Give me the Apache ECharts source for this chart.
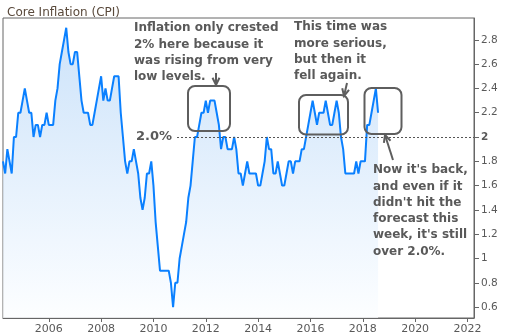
<!DOCTYPE html>
<html><head><meta charset="utf-8">
<script src="https://cdn.jsdelivr.net/npm/echarts@6/dist/echarts.min.js"></script>
<style>html,body{margin:0;padding:0;background:#fff}#c{width:505px;height:336px}</style>
</head><body><div id="c"></div>
<script>
// Core CPI, year-over-year %, monthly from April 2004 to August 2018
const startYear = 2004, startMonth = 4;
const cpi2004 = [1.8, 1.7, 1.9, 1.8, 1.7, 2.0, 2.0, 2.2, 2.2];
const cpi2005 = [2.3, 2.4, 2.3, 2.2, 2.2, 2.0, 2.1, 2.1, 2.0, 2.1, 2.1, 2.2];
const cpi2006 = [2.1, 2.1, 2.1, 2.3, 2.4, 2.6, 2.7, 2.8, 2.9, 2.7, 2.6, 2.6];
const cpi2007 = [2.7, 2.7, 2.5, 2.3, 2.2, 2.2, 2.2, 2.1, 2.1, 2.2, 2.3, 2.4];
const cpi2008 = [2.5, 2.3, 2.4, 2.3, 2.3, 2.4, 2.5, 2.5, 2.5, 2.2, 2.0, 1.8];
const cpi2009 = [1.7, 1.8, 1.8, 1.9, 1.8, 1.7, 1.5, 1.4, 1.5, 1.7, 1.7, 1.8];
const cpi2010 = [1.6, 1.3, 1.1, 0.9, 0.9, 0.9, 0.9, 0.9, 0.8, 0.6, 0.8, 0.8];
const cpi2011 = [1.0, 1.1, 1.2, 1.3, 1.5, 1.6, 1.8, 2.0, 2.0, 2.1, 2.2, 2.2];
const cpi2012 = [2.3, 2.2, 2.3, 2.3, 2.3, 2.2, 2.1, 1.9, 2.0, 2.0, 1.9, 1.9];
const cpi2013 = [1.9, 2.0, 1.9, 1.7, 1.7, 1.6, 1.7, 1.8, 1.7, 1.7, 1.7, 1.7];
const cpi2014 = [1.6, 1.6, 1.7, 1.8, 2.0, 1.9, 1.9, 1.7, 1.7, 1.8, 1.7, 1.6];
const cpi2015 = [1.6, 1.7, 1.8, 1.8, 1.7, 1.8, 1.8, 1.8, 1.9, 1.9, 2.0, 2.1];
const cpi2016 = [2.2, 2.3, 2.2, 2.1, 2.2, 2.2, 2.2, 2.3, 2.2, 2.1, 2.1, 2.2];
const cpi2017 = [2.3, 2.2, 2.0, 1.9, 1.7, 1.7, 1.7, 1.7, 1.7, 1.8, 1.7, 1.8];
const cpi2018 = [1.8, 1.8, 2.1, 2.1, 2.2, 2.3, 2.4, 2.2];

const yTicks = [0.6, 0.8, 1.0, 1.2, 1.4, 1.6, 1.8, 2.0, 2.2, 2.4, 2.6, 2.8];
const xTicks = [2006, 2008, 2010, 2012, 2014, 2016, 2018, 2020, 2022];
const targetLevel = 2.0;

const coreCPI = [].concat(cpi2004, cpi2005, cpi2006, cpi2007, cpi2008, cpi2009,
  cpi2010, cpi2011, cpi2012, cpi2013, cpi2014, cpi2015, cpi2016, cpi2017, cpi2018);
const seriesData = coreCPI.map((v, i) => [startYear + (startMonth - 1 + i) / 12, v]);

const chart = echarts.init(document.getElementById('c'), null, {renderer: 'canvas'});
const GRAY = '#5e5e5e';
const annFont = {fill: '#595959', fontSize: 12, fontWeight: 'bold', fontFamily: 'DejaVu Sans', lineHeight: 16.3, verticalAlign: 'top', align: 'left'};

function arrow(x1, y1, x2, y2) {
  const a = Math.atan2(y2 - y1, x2 - x1), L = 8, s = 0.45;
  return [
    {type: 'line', shape: {x1, y1, x2, y2}, style: {stroke: GRAY, lineWidth: 2}, z: 20},
    {type: 'polyline', shape: {points: [
      [x2 - L * Math.cos(a - s), y2 - L * Math.sin(a - s)], [x2, y2],
      [x2 - L * Math.cos(a + s), y2 - L * Math.sin(a + s)]]},
      style: {stroke: GRAY, lineWidth: 2, fill: null}, z: 20}
  ];
}
function box(x, y, w, h) {
  return {type: 'rect', shape: {x, y, width: w, height: h, r: 7}, style: {stroke: GRAY, lineWidth: 2, fill: null}, z: 20};
}

chart.setOption({
  animation: false,
  textStyle: {fontFamily: 'DejaVu Sans'},
  title: {text: 'Core Inflation (CPI)', left: 2, top: 2,
    textStyle: {fontSize: 12, fontWeight: 'normal', color: '#5a4a3c', fontFamily: 'DejaVu Sans'}},
  grid: {left: 3, right: 31, top: 18, bottom: 18, show: true, borderColor: '#666', borderWidth: 1},
  xAxis: {
    type: 'value', min: 2004.25, max: 2022.25,
    axisLine: {show: true, lineStyle: {color: '#666'}},
    axisTick: {show: true, length: 4, customValues: xTicks, lineStyle: {color: '#666'}},
    axisLabel: {customValues: xTicks, color: '#595959', fontSize: 11, margin: 6, formatter: v => String(Math.round(v))},
    splitLine: {show: false}
  },
  yAxis: {
    type: 'value', position: 'right', min: 0.51, max: 2.98,
    axisLine: {show: true, lineStyle: {color: '#666'}},
    axisTick: {show: true, length: 5, customValues: yTicks, lineStyle: {color: '#666'}},
    axisLabel: {customValues: yTicks, color: '#595959', fontSize: 10.5, margin: 7,
      formatter: v => { const s = String(Math.round(v * 10) / 10); return Math.abs(v - 2) < 1e-9 ? '{b|' + s + '}' : s; },
      rich: {b: {fontWeight: 'bold', color: '#595959', fontSize: 10.5}}},
    splitLine: {show: false}
  },
  series: [{
    type: 'line', data: seriesData, showSymbol: false, silent: true,
    lineStyle: {color: '#0a80ff', width: 2},
    areaStyle: {color: new echarts.graphic.LinearGradient(0, 0, 0, 1, [
      {offset: 0, color: '#b6d6f7'}, {offset: 1, color: '#fbfdff'}])},
    markLine: {
      silent: true, symbol: ['none', 'none'],
      lineStyle: {color: '#555', width: 1, type: [2, 2]},
      label: {show: true, position: 'start', formatter: '2.0%', color: '#595959', fontSize: 13, fontWeight: 'bold', distance: 5},
      data: [[{coord: [2010.9, targetLevel]}, {coord: [2022.25, targetLevel]}]]
    }
  }],
  graphic: [
    {type: 'text', left: 134, top: 20, z: 20, style: Object.assign({text: 'Inflation only crested\n2% here because it\nwas rising from very\nlow levels.'}, annFont)},
    {type: 'text', left: 294, top: 19, z: 20, style: Object.assign({text: 'This time was\nmore serious,\nbut then it\nfell again.'}, annFont)},
    {type: 'text', left: 373, top: 162, z: 20, style: Object.assign({text: "Now it's back,\nand even if it\ndidn't hit the\nforecast this\nweek, it's still\nover 2.0%."}, annFont)},
    box(188, 86, 42, 45),
    box(299, 95, 49, 39.5),
    box(364.5, 88, 37, 46),
    ...arrow(216, 73, 216, 85),
    ...arrow(347, 83, 344, 96),
    ...arrow(393, 160, 385, 135)
  ]
});
</script></body></html>
